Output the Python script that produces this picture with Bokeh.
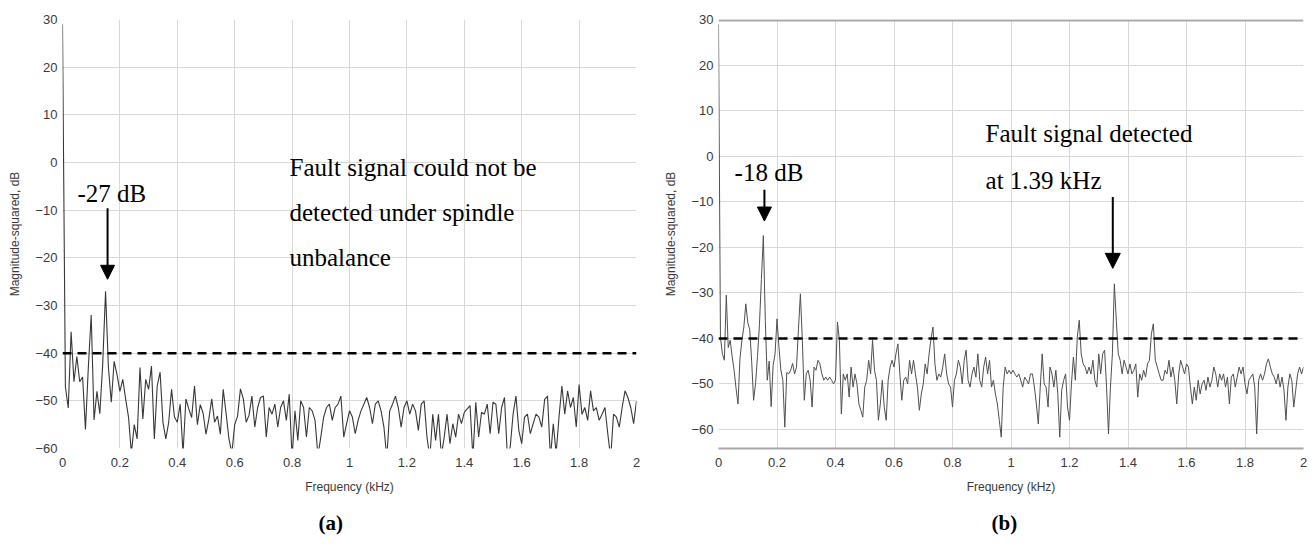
import numpy as np
from bokeh.plotting import figure
from bokeh.layouts import row
from bokeh.models import Span, Arrow, NormalHead, Label, Title, FixedTicker, NumeralTickFormatter
from bokeh.embed import file_html
from bokeh.resources import INLINE

# ---------------- data ----------------
STEP_A = 0.01          # kHz per bin, panel (a)
STEP_B = 1.0 / 150.0   # kHz per bin, panel (b)

mag_a = [
    29, -47, -51.5, -35.5, -46, -40.7, -46, -45, -56, -43,
    -32, -54, -48, -52.7, -42.4, -27, -43, -50.3, -41.7, -44.5,
    -48, -45.5, -49.6, -53.4, -61, -55, -58, -43, -53.8, -45.5,
    -47.6, -42.7, -58, -46.9, -44, -54.5, -58, -54.5, -47.6, -53.4,
    -54.5, -50.7, -61, -49.6, -51.7, -53.5, -46.9, -55, -50.8, -52.6,
    -57, -53.8, -49.6, -54.5, -53.2, -57, -47.6, -52.6, -58, -61,
    -55, -53.2, -47.5, -49.6, -54.5, -53,
    -49.0, -55.5, -51.4, -49.3, -49.0, -57.6, -51.4, -52.8, -50.7, -55.5,
    -51.4, -50.0, -54.1, -48.6, -62.0, -52.1, -58.3, -50.0, -51.4, -57.6,
    -51.4, -52.1, -54.1, -61.5, -57.6, -53.4, -51.4, -50.7, -54.1, -51.4,
    -50.7, -49.0, -57.6, -54.8, -52.1, -53.4, -56.9, -54.1, -52.1, -50.7,
    -49.3, -51.4, -54.8, -50.7, -50.0, -52.1, -55.5, -62.0, -52.1, -50.7,
    -49.0, -51.4, -55.5, -51.4, -50.0, -52.8, -50.7, -52.1, -56.2, -50.7,
    -50.0, -57.6, -62.0, -52.8, -58.3, -52.8, -61.5, -57.6,
    -52.8, -59.0, -54.8, -57.6, -52.8, -54.8, -52.4, -51.7, -51.0, -62.0,
    -50.3, -57.6, -52.4, -52.8, -50.7, -56.9, -50.3, -50.7, -56.9, -51.4,
    -49.3, -61.5, -59.7, -52.8, -49.0, -56.2, -59.0, -53.4, -52.8, -56.9,
    -54.8, -52.8, -53.4, -55.5, -49.7, -49.0, -62.0, -54.8, -61.0, -53.4,
    -46.9, -52.8, -47.9, -51.4, -49.3, -55.5, -46.6, -52.8, -51.4, -54.1,
    -47.9, -52.1, -51.4, -54.1, -52.8, -51.4, -56.9, -62.0, -52.8, -53.4,
    -55.5, -51.4, -47.9, -49.3, -51.4, -54.8, -50.0,
]

mag_b = [
    29, -39.7, -43.4, -44.8, -30.5, -42, -40.4, -44, -47, -51,
    -54.4, -44.5, -40.4, -37.5, -32.4, -36.5, -38, -45, -53.6, -49.9,
    -44, -37, -27, -17.4, -36, -49.2, -45, -55, -46, -43.4,
    -35.7, -41.9, -47, -49.2, -59.5, -47.5, -47.8, -47, -45.5, -47.8,
    -46.3, -38, -30.2, -40.4, -53.6, -47.8, -47, -49.2, -55.1, -46.3,
    -47, -44.8, -45.6, -47.8, -49.2, -48.5, -49.2, -48.5, -49.2, -50,
    -49.2, -36.4, -40.4, -56.6, -47.8, -49.2, -47.8, -52.9, -46.3, -50.7,
    -47.8, -50, -54.4, -55.8, -57.3, -50.7, -49.2, -44.8, -47.8, -40.4,
    -47, -49.2, -58, -54.4, -49.2, -55.1, -58, -49.2, -46.3, -44.8,
    -46.3, -43.4, -41.2, -47.8, -53.6, -49.2, -48.5, -50, -44.8, -47.8,
    -44.8, -47.8, -50.7, -55.8, -52.2, -50, -45.6, -47.8, -43.4, -40,
    -37.5, -45.6, -49.2, -47.8, -48.5, -46.3, -43.4, -47.8, -50, -50.7,
    -55.1, -49.2, -47.8, -44.8, -46.3, -50, -44.8, -42.6, -49.2, -50.7,
    -47.8, -46.3, -48.5, -43.4, -49.2, -50.7, -46.3, -44.1, -47.8, -44.8,
    -50.7, -49.2, -52.2, -54.4, -58, -61.7, -50.7, -46.3, -47.8, -47,
    -47.8, -47, -47.8, -48.5, -47.8, -49.2, -50.7, -48.5, -49.2, -50,
    -47.8, -47.8, -50.7, -54.4, -58.8, -50.7, -43.4, -50, -50.7, -55.1,
    -46.3, -47.8, -50.7, -47, -52.2, -61.7, -51.4, -49.2, -47.8, -55.1,
    -58, -50, -44.1, -49.2, -39.7, -36, -43.4, -45.6, -46.3, -47.8,
    -46.3, -47.8, -44.8, -49.2, -50.7, -43.4, -47.8, -43.4, -42.6, -50.7,
    -61, -50.7, -43.4, -28, -36, -43.4, -44.8, -47.8, -44.8, -46.3,
    -47.8, -45.6, -47.8, -47, -45.6, -52.9, -47.8, -49.2, -47, -48.5,
    -45.6, -44.8, -39, -36.8, -44.8, -46.3, -47.8, -49.2, -49.2, -47,
    -47.8, -44.8, -48.5, -46.3, -49.2, -54.4, -47.8, -44.8, -46.3, -47.8,
    -45.6, -46.3, -50.7, -54.4, -50.7, -53.6, -49.2, -52.2, -50, -49.2,
    -51.4, -48.5, -50.7, -49.2, -46.3, -47.8, -50.7, -47.8, -49.2, -47.8,
    -50.7, -48.5, -54.4, -48.5, -47.8, -50.7, -48.5, -46.3, -47.8, -46.3,
    -50, -52.2, -49.2, -48.5, -47.8, -50.7, -61, -49.2, -47.8, -49.2,
    -47.8, -45.6, -44.5, -46.3, -47.8, -48.5, -50, -47.8, -50.7, -48.5,
    -51.4, -58, -50.7, -47.8, -49.2, -55.1, -51.4, -47.8, -46.3, -47.8,
    -46.3,
]

freq_a = [round(i * STEP_A, 5) for i in range(len(mag_a))]
freq_b = [round(i * STEP_B, 5) for i in range(len(mag_b))]

X_TICKS = [0, 0.2, 0.4, 0.6, 0.8, 1.0, 1.2, 1.4, 1.6, 1.8, 2.0]
Y_TICKS = [-60, -50, -40, -30, -20, -10, 0, 10, 20, 30]
THRESHOLD_DB = -40

X_LABEL = "Frequency (kHz)"
Y_LABEL = "Magnitude-squared, dB"

SERIF = "Liberation Serif"
SANS = "Liberation Sans"


def style(p, tick_std_x, tick_std_y, lab_std_x, lab_std_y):
    p.outline_line_color = None
    p.background_fill_color = "white"
    p.border_fill_color = "white"
    p.xaxis.ticker = FixedTicker(ticks=X_TICKS)
    p.yaxis.ticker = FixedTicker(ticks=Y_TICKS)
    p.xaxis.formatter = NumeralTickFormatter(format="0.[0]")
    p.grid.grid_line_color = "#d9d9d9"
    p.grid.grid_line_width = 1
    for ax in (p.xaxis, p.yaxis):
        ax.major_tick_line_color = None
        ax.minor_tick_line_color = None
        ax.major_tick_out = 0
        ax.major_tick_in = 0
        ax.minor_tick_out = 0
        ax.major_label_text_font = SANS
        ax.major_label_text_font_size = "13px"
        ax.major_label_text_color = "#3a3a3a"
        ax.axis_label_text_font = SANS
        ax.axis_label_text_font_size = "12px"
        ax.axis_label_text_font_style = "normal"
        ax.axis_label_text_color = "#3a3a3a"
    p.xaxis.major_label_standoff = tick_std_x
    p.yaxis.major_label_standoff = tick_std_y
    p.xaxis.axis_label_standoff = lab_std_x
    p.yaxis.axis_label_standoff = lab_std_y
    p.xaxis.axis_label = X_LABEL
    p.yaxis.axis_label = Y_LABEL


def add_text(p, x, y, txt, size="25px"):
    p.add_layout(Label(x=x, y=y, text=txt, text_font=SERIF, text_font_size=size,
                       text_color="black", text_baseline="alphabetic", text_align="left"))


def add_arrow(p, x, y0, y1, size):
    p.add_layout(Arrow(end=NormalHead(size=size, fill_color="black", line_color="black"),
                       x_start=x, y_start=y0, x_end=x, y_end=y1,
                       line_color="black", line_width=2))


# ---------------- panel (a) ----------------
pa = figure(width=657, height=557, x_range=(0, 2), y_range=(-60, 30),
            output_backend="svg", toolbar_location=None,
            min_border_left=62, min_border_right=21, min_border_top=19, min_border_bottom=109)
style(pa, 9, 5, 10, 10)
pa.xaxis.axis_line_color = None
pa.yaxis.axis_line_color = None
pa.line(freq_a, mag_a, line_color="#383838", line_width=1.1)
pa.add_layout(Span(location=THRESHOLD_DB, dimension="width", line_color="black",
                   line_width=2.5, line_dash="9 6"))
add_text(pa, 0.052, -6.5, "-27 dB")
add_arrow(pa, 0.157, -9.6, -24.5, 14)
add_text(pa, 0.791, -1.05, "Fault signal could not be")
add_text(pa, 0.791, -10.5, "detected under spindle")
add_text(pa, 0.791, -19.9, "unbalance")
pa.add_layout(Title(text="(a)", align="left", offset=256, standoff=25,
                    text_font=SERIF, text_font_size="21px", text_font_style="bold",
                    text_color="black"), "below")

# ---------------- panel (b) ----------------
# frames of the two panels share top/bottom in the row; range chosen so the grid matches
pb = figure(width=658, height=557, x_range=(0, 2), y_range=(-64.2, 30.1),
            output_backend="svg", toolbar_location=None,
            min_border_left=61, min_border_right=12, min_border_top=19, min_border_bottom=109)
style(pb, 9, 5, 10, 10)
pb.yaxis.axis_line_color = None
pb.xaxis.axis_line_color = "#a8a8a8"
pb.xaxis.axis_line_width = 2
pb.add_layout(Span(location=29.9, dimension="width", line_color="#a8a8a8", line_width=2))
pb.line(freq_b, mag_b, line_color="#505050", line_width=1)
pb.add_layout(Span(location=THRESHOLD_DB, dimension="width", line_color="black",
                   line_width=2.5, line_dash="9 6"))
add_text(pb, 0.055, -3.45, "-18 dB")
add_arrow(pb, 0.157, -7.3, -14.2, 14)
add_text(pb, 0.913, 5.05, "Fault signal detected")
add_text(pb, 0.913, -5.27, "at 1.39 kHz")
add_arrow(pb, 1.348, -8.9, -24.6, 15)
pb.add_layout(Title(text="(b)", align="left", offset=273, standoff=25,
                    text_font=SERIF, text_font_size="21px", text_font_style="bold",
                    text_color="black"), "below")

layout = row(pa, pb)
open("out.html", "w").write(file_html(layout, INLINE))
